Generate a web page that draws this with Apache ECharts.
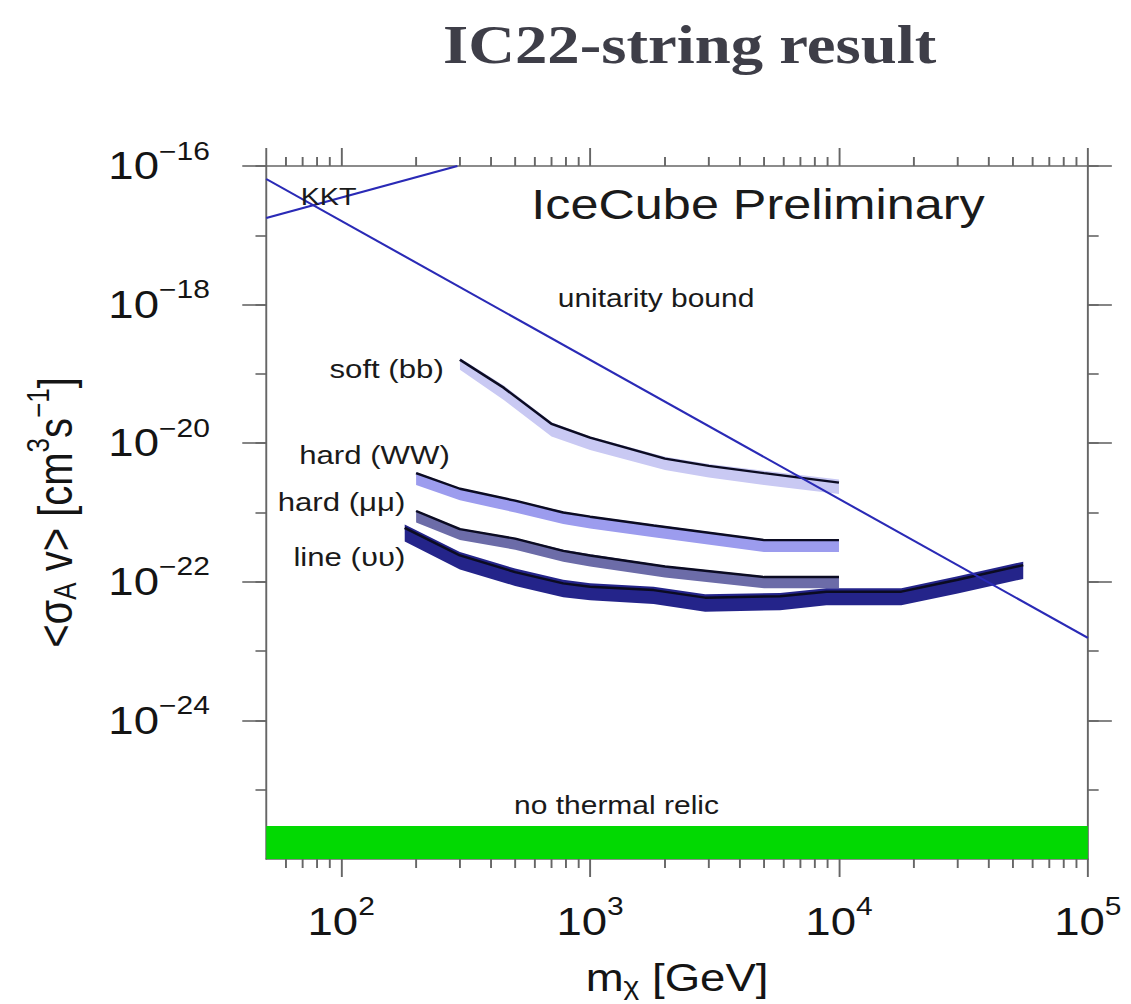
<!DOCTYPE html>
<html>
<head>
<meta charset="utf-8">
<title>IC22-string result</title>
<script src="https://cdn.jsdelivr.net/npm/echarts@6/dist/echarts.min.js"></script>
<style>
  html, body { margin: 0; padding: 0; background: #ffffff; overflow: hidden; }
  /* the slide artwork is laid out wide: draw at 943px and stretch to 1131px */
  #chart { width: 943px; height: 1004px; transform: scaleX(1.1994); transform-origin: 0 0; }
</style>
</head>
<body>
<div id="chart"></div>
<script>
// Axis ranges (GeV, cm^3 s^-1)
const massRange = [50, 1e5];
const sigmaRange = [1e-26, 1e-16];
// minor ticks on the mass axis (2..9 x 10^k)
const massMinorTicks = [60, 70, 80, 90,
  200, 300, 400, 500, 600, 700, 800, 900,
  2000, 3000, 4000, 5000, 6000, 7000, 8000, 9000,
  20000, 30000, 40000, 50000, 60000, 70000, 80000, 90000];

// soft channel (b b-bar)
const softMass = [300, 450, 700, 1000, 2000, 3000, 5000, 10000];
const softLimit = [1.6e-19, 6.3e-20, 1.9e-20, 1.2e-20, 6.0e-21, 4.7e-21, 3.7e-21, 2.7e-21];
const softBandHigh = [1.7e-19, 6.8e-20, 2.0e-20, 1.25e-20, 6.4e-21, 5.0e-21, 4.0e-21, 3.0e-21];
const softBandLow = [1.15e-19, 4.2e-20, 1.25e-20, 8.0e-21, 4.1e-21, 3.2e-21, 2.5e-21, 1.85e-21];

// hard channel (W+ W-)
const wwMass = [200, 300, 500, 780, 1000, 1800, 5000, 10000];
const wwLimit = [3.7e-21, 2.2e-21, 1.48e-21, 1.0e-21, 8.7e-22, 6.5e-22, 4.0e-22, 4.0e-22];
const wwBandHigh = [3.8e-21, 2.25e-21, 1.52e-21, 1.03e-21, 8.9e-22, 6.7e-22, 4.1e-22, 4.1e-22];
const wwBandLow = [2.5e-21, 1.5e-21, 1.0e-21, 6.8e-22, 5.9e-22, 4.4e-22, 2.7e-22, 2.7e-22];

// hard channel (mu+ mu-)
const mumuMass = [200, 300, 500, 780, 1000, 2000, 5000, 10000];
const mumuLimit = [1.05e-21, 5.75e-22, 4.2e-22, 2.8e-22, 2.4e-22, 1.66e-22, 1.17e-22, 1.17e-22];
const mumuBandHigh = [1.08e-21, 5.9e-22, 4.3e-22, 2.9e-22, 2.5e-22, 1.7e-22, 1.2e-22, 1.2e-22];
const mumuBandLow = [7.2e-22, 4.0e-22, 2.9e-22, 1.95e-22, 1.66e-22, 1.15e-22, 8.1e-23, 8.1e-23];

// line channel (nu nu-bar)
const nunuMass = [180, 300, 500, 780, 1000, 1800, 2900, 5800, 8900, 17800, 30000, 55000];
const nunuLimit = [6.0e-22, 2.4e-22, 1.38e-22, 9.5e-23, 8.5e-23, 7.6e-23, 5.9e-23, 6.2e-23, 7.2e-23, 7.2e-23, 1.07e-22, 1.74e-22];
const nunuBandHigh = [6.7e-22, 2.7e-22, 1.55e-22, 1.07e-22, 9.5e-23, 8.5e-23, 6.6e-23, 6.9e-23, 8.1e-23, 8.1e-23, 1.2e-22, 1.95e-22];
const nunuBandLow = [3.8e-22, 1.5e-22, 8.7e-23, 6.0e-23, 5.4e-23, 4.8e-23, 3.7e-23, 3.9e-23, 4.6e-23, 4.6e-23, 6.8e-23, 1.1e-22];

// theoretical bounds
const unitarityBound = [[50, 6.5e-17], [100000, 1.55e-23]];
const kktBound = [[50, 1.78e-17], [293, 1.0e-16]];
const thermalRelicMass = [50, 100000];
const thermalRelicHigh = [3e-26, 3e-26];
const thermalRelicLow = [1e-26, 1e-26];

const SANS = "'Liberation Sans', Arial, Helvetica, sans-serif";
const AXIS_GREY = '#666666';

const chart = echarts.init(document.getElementById('chart'), null, { renderer: 'svg' });

// filled band between an upper and lower curve, drawn as one polygon
function bandSeries(name, mass, high, low, color, z) {
  return {
    type: 'custom',
    name: name,
    coordinateSystem: 'cartesian2d',
    data: mass.map((m, i) => [m, high[i], low[i]]),
    encode: { x: 0, y: [1, 2] },
    silent: true,
    z: z,
    renderItem: function (params, api) {
      if (params.dataIndex !== 0) return null;
      const top = mass.map((m, i) => api.coord([m, high[i]]));
      const bottom = mass.map((m, i) => api.coord([m, low[i]])).reverse();
      return {
        type: 'polygon',
        shape: { points: top.concat(bottom) },
        style: { fill: color, stroke: null }
      };
    }
  };
}

function limitLine(name, mass, limit, z) {
  return {
    type: 'line',
    name: name,
    data: mass.map((m, i) => [m, limit[i]]),
    symbol: 'none',
    silent: true,
    z: z,
    lineStyle: { color: '#0b0b22', width: 2.4 }
  };
}

function tenPower(exp) {
  const e = exp < 0 ? '\u2212' + (-exp) : String(exp);
  return '{b|10}{s|' + e + '}';
}

const tickRich = {
  b: { fontSize: 38, fontFamily: SANS, color: '#141414' },
  s: { fontSize: 25, fontFamily: SANS, color: '#141414', padding: [0, 0, 30, 0] }
};

function sigmaAxis(position, interval, tickLen, showLabel, showLine) {
  return {
    type: 'log', logBase: 10, position: position,
    min: sigmaRange[0], max: sigmaRange[1], interval: interval,
    axisLine: { show: showLine, onZero: false, lineStyle: { color: AXIS_GREY, width: 1.6 } },
    axisTick: { show: true, length: tickLen, lineStyle: { color: AXIS_GREY, width: 1.6 } },
    splitLine: { show: false },
    axisLabel: {
      show: showLabel, margin: 47,
      formatter: v => tenPower(Math.round(Math.log10(v))),
      rich: tickRich
    }
  };
}

function massAxis(position, showLabel) {
  return {
    type: 'log', logBase: 10, position: position,
    min: massRange[0], max: massRange[1],
    axisLine: { show: true, onZero: false, lineStyle: { color: AXIS_GREY, width: 1.6 } },
    axisTick: { show: true, length: 18, lineStyle: { color: AXIS_GREY, width: 1.6 } },
    splitLine: { show: false },
    axisLabel: {
      show: showLabel, margin: 35,
      showMinLabel: false,
      formatter: v => {
        const e = Math.log10(v);
        return Math.abs(e - Math.round(e)) < 1e-6 ? tenPower(Math.round(e)) : '';
      },
      rich: tickRich
    }
  };
}

const xBottom = massAxis('bottom', true);
xBottom.name = '{t|m}{sub|\u03c7}{t| [GeV]}';
xBottom.nameLocation = 'middle';
xBottom.nameGap = 97;
xBottom.nameMoveOverlap = false;
xBottom.nameTextStyle = {
  rich: {
    t: { fontSize: 38, fontFamily: SANS, color: '#141414' },
    sub: { fontSize: 25, fontFamily: SANS, color: '#141414', padding: [18, 0, 0, 0] }
  }
};

const yLeft = sigmaAxis('left', 2, 20, true, true);
yLeft.name = '{t|<\u03c3}{sub|A}{t| v> [cm}{sup|3}{t|s}{sup|\u22121}{t|]}';
yLeft.nameLocation = 'middle';
yLeft.nameGap = 149;
yLeft.nameMoveOverlap = false;
yLeft.nameTextStyle = {
  rich: {
    t: { fontSize: 40, fontFamily: SANS, color: '#141414' },
    sub: { fontSize: 26, fontFamily: SANS, color: '#141414', padding: [16, 0, 0, 0] },
    sup: { fontSize: 26, fontFamily: SANS, color: '#141414', padding: [0, 0, 28, 0] }
  }
};

function label(text, x, y, size, align) {
  return {
    type: 'text', x: x, y: y, silent: true, z: 20,
    style: {
      text: text, fill: '#1a1a1a',
      font: size + 'px ' + SANS,
      textAlign: align || 'center', textVerticalAlign: 'middle'
    }
  };
}

const option = {
  animation: false,
  backgroundColor: '#ffffff',
  grid: { left: 222, right: 36, top: 166, bottom: 145, containLabel: false, outerBoundsMode: 'none' },
  xAxis: [xBottom, massAxis('top', false)],
  yAxis: [
    yLeft,
    sigmaAxis('left', 1, 9, false, false),
    sigmaAxis('right', 2, 20, false, true),
    sigmaAxis('right', 1, 9, false, false)
  ],
  graphic: [
    {
      type: 'text', x: 575, y: 45, silent: true,
      style: {
        text: 'IC22-string result', fill: '#3e3e48',
        font: 'bold 54px "Liberation Serif", "Times New Roman", serif',
        textAlign: 'center', textVerticalAlign: 'middle'
      }
    },
    label('IceCube Preliminary', 632, 205, 42),
    label('unitarity bound', 547, 298, 25),
    label('KKT', 274, 197, 24),
    label('soft (bb)', 370, 369, 26, 'right'),
    label('hard (WW)', 375, 455, 26, 'right'),
    label('hard (\u03bc\u03bc)', 338, 502, 26, 'right'),
    label('line (\u03c5\u03c5)', 338, 557, 26, 'right'),
    label('no thermal relic', 514, 805, 25)
  ],
  series: [
    bandSeries('no thermal relic', thermalRelicMass, thermalRelicHigh, thermalRelicLow, '#02d902', 1),
    bandSeries('soft (bb) band', softMass, softBandHigh, softBandLow, '#c9c9f3', 3),
    limitLine('soft (bb)', softMass, softLimit, 4),
    bandSeries('hard (WW) band', wwMass, wwBandHigh, wwBandLow, '#9c9cee', 3),
    limitLine('hard (WW)', wwMass, wwLimit, 4),
    bandSeries('hard (\u03bc\u03bc) band', mumuMass, mumuBandHigh, mumuBandLow, '#6c6ca8', 3),
    limitLine('hard (\u03bc\u03bc)', mumuMass, mumuLimit, 4),
    bandSeries('line (\u03c5\u03c5) band', nunuMass, nunuBandHigh, nunuBandLow, '#24248a', 3),
    limitLine('line (\u03c5\u03c5)', nunuMass, nunuLimit, 4),
    {
      type: 'line', name: 'unitarity bound', data: unitarityBound,
      symbol: 'none', silent: true, z: 6,
      lineStyle: { color: '#2a2ab6', width: 2 }
    },
    {
      type: 'line', name: 'KKT', data: kktBound,
      symbol: 'none', silent: true, z: 6,
      lineStyle: { color: '#2a2ab6', width: 2 }
    },
    {
      type: 'custom', name: 'minor ticks', coordinateSystem: 'cartesian2d',
      data: massMinorTicks.map(v => [v, sigmaRange[0]]),
      encode: { x: 0, y: 1 }, silent: true, z: 7, clip: false,
      renderItem: function (params, api) {
        const v = api.value(0);
        const b = api.coord([v, sigmaRange[0]]);
        const t = api.coord([v, sigmaRange[1]]);
        const st = { stroke: AXIS_GREY, lineWidth: 1.6 };
        return {
          type: 'group',
          children: [
            { type: 'line', shape: { x1: b[0], y1: b[1], x2: b[0], y2: b[1] + 9 }, style: st },
            { type: 'line', shape: { x1: t[0], y1: t[1], x2: t[0], y2: t[1] - 9 }, style: st }
          ]
        };
      }
    }
  ]
};

chart.setOption(option);
</script>
</body>
</html>
